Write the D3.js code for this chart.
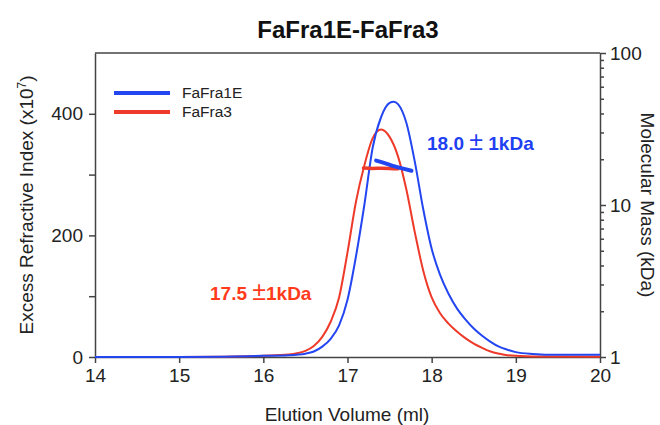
<!DOCTYPE html>
<html>
<head>
<meta charset="utf-8">
<script src="https://cdn.jsdelivr.net/npm/d3@7"></script>
<style>
  html, body { margin: 0; padding: 0; background: #fff; }
  svg { display: block; font-family: "Liberation Sans", Arial, sans-serif; }
</style>
</head>
<body>
<svg id="chart" width="660" height="425"></svg>
<script>
// ---- Data ----
const titleText = "FaFra1E-FaFra3";
const seriesNames = ["FaFra1E", "FaFra3"];
const xTicks = [14, 15, 16, 17, 18, 19, 20];
const yLeftTicks = [0, 200, 400];
const yLeftMinor = [100, 300];
const yRightTicks = [1, 10, 100];

// FaFra1E refractive index trace (elution volume ml, RI x10^7)
const fafra1eVol = [14.0, 15.0, 15.5, 16.0, 16.3, 16.5, 16.6, 16.7, 16.8, 16.9, 17.0, 17.1, 17.2, 17.3, 17.4, 17.5, 17.55, 17.6, 17.7, 17.8, 17.9, 18.0, 18.1, 18.2, 18.3, 18.4, 18.5, 18.6, 18.7, 18.8, 18.9, 19.0, 19.2, 19.5, 20.0];
const fafra1eRI  = [0, 0, 0.5, 2, 3, 5.5, 9, 17, 30, 52, 94, 165, 250, 345, 395, 418, 420, 416, 385, 321, 243, 178, 135, 104, 80, 62, 47, 35, 25, 17, 12, 8, 5, 3.5, 3.5];

// FaFra3 refractive index trace
const fafra3Vol = [14.0, 15.0, 15.5, 16.0, 16.3, 16.4, 16.5, 16.6, 16.7, 16.8, 16.9, 17.0, 17.1, 17.2, 17.3, 17.4, 17.5, 17.6, 17.7, 17.8, 17.9, 18.0, 18.1, 18.2, 18.3, 18.4, 18.5, 18.6, 18.7, 18.8, 18.9, 19.2, 20.0];
const fafra3RI  = [0, 0, 0.5, 2, 4, 6, 10, 18, 33, 58, 98, 172, 255, 315, 360, 374, 362, 330, 275, 205, 142, 98, 72, 55, 42, 31, 22, 15, 9, 5.5, 3, 1, 0.5];

// Molar mass across peak (kDa)
const fafra1eMassVol = [17.34, 17.45, 17.55, 17.65, 17.76];
const fafra1eMass    = [19.6, 18.8, 18.0, 17.4, 16.8];
const fafra3MassVol  = [17.19, 17.3, 17.4, 17.5, 17.6];
const fafra3Mass     = [17.5, 17.4, 17.45, 17.4, 17.3];

const annotationValues = ["18.0 ", "17.5 "];
const annotationErrors = [" 1kDa", "1kDa"];

// ---- Styling / layout ----
const blue = "#2446f0", red = "#ee3a2a";
const blueText = "#1f3ff2", redText = "#ff3b1c";
const axisColor = "#444";
const L = 95, R = 600, T = 53, B = 357;

const svg = d3.select("#chart");

const x = d3.scaleLinear().domain([14, 20]).range([L, R]);
const yL = d3.scaleLinear().domain([0, 500]).range([B, T]);
const yR = d3.scaleLog().domain([1, 100]).range([B, T]);

// Title
svg.append("text").attr("x", 348).attr("y", 38).attr("text-anchor", "middle")
  .attr("font-size", 24).attr("font-weight", "bold").attr("fill", "#111").text(titleText);

// Axes
function styleAxis(g) {
  g.selectAll("path, line").attr("stroke", axisColor).attr("stroke-width", 1.5);
  g.selectAll("text").attr("fill", "#222").attr("font-size", 19)
    .attr("font-family", "'Liberation Sans', Arial, sans-serif");
}

// top frame line
svg.append("line").attr("x1", L).attr("x2", R).attr("y1", T).attr("y2", T)
  .attr("stroke", axisColor).attr("stroke-width", 1.5);

const gx = svg.append("g").attr("transform", `translate(0,${B})`)
  .call(d3.axisBottom(x).tickValues(xTicks).tickFormat(d3.format("d")).tickSizeInner(6).tickSizeOuter(0).tickPadding(6));
styleAxis(gx);

const gyl = svg.append("g").attr("transform", `translate(${L},0)`)
  .call(d3.axisLeft(yL).tickValues(yLeftTicks).tickSizeInner(6).tickSizeOuter(0).tickPadding(6));
styleAxis(gyl);
const gylm = svg.append("g").attr("transform", `translate(${L},0)`)
  .call(d3.axisLeft(yL).tickValues(yLeftMinor).tickFormat("").tickSizeInner(6).tickSizeOuter(0));
styleAxis(gylm);
gylm.select("path").remove();

const gyr = svg.append("g").attr("transform", `translate(${R},0)`)
  .call(d3.axisRight(yR).tickValues(yRightTicks).tickFormat(d3.format("d")).tickSizeInner(6).tickSizeOuter(0).tickPadding(4));
styleAxis(gyr);
const minorR = yR.ticks().filter(v => !yRightTicks.includes(v));
const gyrm = svg.append("g").attr("transform", `translate(${R},0)`)
  .call(d3.axisRight(yR).tickValues(minorR).tickFormat("").tickSizeInner(4).tickSizeOuter(0));
styleAxis(gyrm);
gyrm.select("path").remove();

// Axis titles
svg.append("text").attr("x", 347).attr("y", 421).attr("text-anchor", "middle")
  .attr("font-size", 19).attr("fill", "#222").text("Elution Volume (ml)");

const yt = svg.append("text").attr("transform", "rotate(-90)").attr("x", -(T + B) / 2).attr("y", 33)
  .attr("text-anchor", "middle").attr("font-size", 19).attr("fill", "#222");
yt.append("tspan").text("Excess Refractive Index (x10");
yt.append("tspan").attr("dy", -7).attr("font-size", 12).text("7");
yt.append("tspan").attr("dy", 7).text(")");

svg.append("text").attr("transform", "rotate(90)").attr("x", (T + B) / 2).attr("y", -641)
  .attr("text-anchor", "middle").attr("font-size", 19).attr("fill", "#222").text("Molecular Mass (kDa)");

// Curves
const riLine = d3.line().x(d => x(d[0])).y(d => yL(d[1])).curve(d3.curveMonotoneX);
const massLine = d3.line().x(d => x(d[0])).y(d => yR(d[1])).curve(d3.curveMonotoneX);

svg.append("path").datum(d3.zip(fafra3Vol, fafra3RI)).attr("d", riLine)
  .attr("fill", "none").attr("stroke", red).attr("stroke-width", 2);
svg.append("path").datum(d3.zip(fafra1eVol, fafra1eRI)).attr("d", riLine)
  .attr("fill", "none").attr("stroke", blue).attr("stroke-width", 2);

svg.append("path").datum(d3.zip(fafra3MassVol, fafra3Mass)).attr("d", massLine)
  .attr("fill", "none").attr("stroke", red).attr("stroke-width", 3.5).attr("stroke-linecap", "round");
svg.append("path").datum(d3.zip(fafra1eMassVol, fafra1eMass)).attr("d", massLine)
  .attr("fill", "none").attr("stroke", blue).attr("stroke-width", 4).attr("stroke-linecap", "round");

// Legend
const legend = svg.append("g");
[[blue, 93], [red, 112]].forEach(([c, yy], i) => {
  legend.append("line").attr("x1", 114).attr("x2", 170).attr("y1", yy).attr("y2", yy)
    .attr("stroke", c).attr("stroke-width", 4);
  legend.append("text").attr("x", 182).attr("y", yy + 5).attr("font-size", 15.5)
    .attr("fill", "#222").text(seriesNames[i]);
});

// Annotations
function annot(xx, yy, i, color) {
  const t = svg.append("text").attr("x", xx).attr("y", yy).attr("font-size", 19)
    .attr("font-weight", "bold").attr("fill", color);
  t.append("tspan").text(annotationValues[i]);
  t.append("tspan").attr("font-weight", "normal").attr("font-size", 25).text("\u00B1");
  t.append("tspan").text(annotationErrors[i]);
}
annot(427, 150, 0, blueText);
annot(210, 300, 1, redText);
</script>
</body>
</html>
